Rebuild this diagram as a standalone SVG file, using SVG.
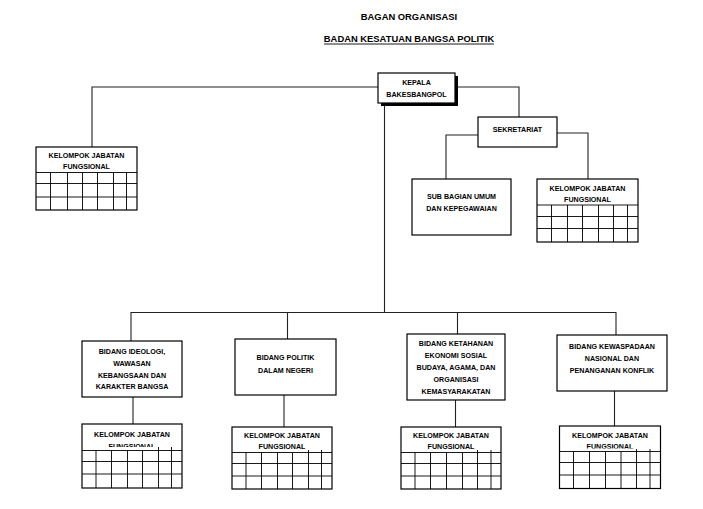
<svg xmlns="http://www.w3.org/2000/svg" width="703" height="509" viewBox="0 0 703 509">
<style>
.t{font-family:"Liberation Sans",Arial,sans-serif;font-weight:bold;font-size:7.1px;fill:#000;text-anchor:middle}
.h{font-family:"Liberation Sans",Arial,sans-serif;font-weight:bold;font-size:9.4px;fill:#000;text-anchor:middle}
.b{fill:#fff;stroke:#000;stroke-width:1.2}
.g{stroke:#000;stroke-width:0.9;fill:none}
.c{stroke:#222;stroke-width:1.1;fill:none}
</style>
<defs>
<clipPath id="clipA"><rect x="82" y="424" width="100" height="23"/></clipPath>
<clipPath id="clipB"><rect x="559" y="426" width="102" height="22.5"/></clipPath>
</defs>
<rect width="703" height="509" fill="#fff"/>
<g id="title">
<text class="h" x="409" y="20">BAGAN ORGANISASI</text>
<text class="h" x="409" y="42">BADAN KESATUAN BANGSA POLITIK</text>
<line x1="324" y1="44" x2="494" y2="44" stroke="#000" stroke-width="0.9"/>
</g>
<g id="connectors">
<polyline class="c" points="378,87 92,87 92,147"/>
<polyline class="c" points="455,87 519,87 519,117"/>
<line class="c" x1="384.5" y1="103" x2="384.5" y2="313"/>
<polyline class="c" points="478,135 446,135 446,179"/>
<polyline class="c" points="557,133 588,133 588,179"/>
<polyline class="c" points="131,341 131,312.5 616,312.5 616,335"/>
<line class="c" x1="287.5" y1="312.5" x2="287.5" y2="339"/>
<line class="c" x1="457.5" y1="312.5" x2="457.5" y2="334"/>
<line class="c" x1="133" y1="397" x2="133" y2="424"/>
<line class="c" x1="284" y1="395" x2="284" y2="427"/>
<line class="c" x1="455.5" y1="400" x2="455.5" y2="427"/>
<line class="c" x1="614.5" y1="391" x2="614.5" y2="426"/>
</g>
<g id="kepala">
<rect x="381" y="76" width="77" height="30" fill="#000"/>
<rect class="b" x="378" y="73" width="77" height="30"/>
<text class="t" x="416.5" y="84.5">KEPALA</text>
<text class="t" x="416.5" y="97">BAKESBANGPOL</text>
</g>
<g id="sekretariat">
<rect class="b" x="478" y="117" width="79" height="30"/>
<text class="t" x="517.5" y="131.5">SEKRETARIAT</text>
</g>
<g id="subbagian">
<rect class="b" x="412" y="179" width="99" height="56"/>
<text class="t" x="461.5" y="198.5">SUB BAGIAN UMUM</text>
<text class="t" x="461.5" y="211">DAN KEPEGAWAIAN</text>
</g>
<g id="kjf-kepala">
<rect class="b" x="36" y="147" width="101" height="63"/>
<text class="t" x="86.5" y="157.5">KELOMPOK JABATAN</text>
<text class="t" x="86.5" y="169">FUNGSIONAL</text>
<path class="g" d="M36 172.5H137M36 183.5H137M36 197H137M50.5 172.5V210M67.5 172.5V210M82.5 172.5V210M97.5 172.5V210M113.5 172.5V210M126.5 172.5V210"/>
</g>
<g id="kjf-sekretariat">
<rect class="b" x="537" y="179" width="101" height="63"/>
<text class="t" x="587.5" y="190.5">KELOMPOK JABATAN</text>
<text class="t" x="587.5" y="202">FUNGSIONAL</text>
<path class="g" d="M537 205H638M537 216.5H638M537 228.5H638M551.5 205V242M567.5 205V242M582.5 205V242M598.5 205V242M613.5 205V242M627.5 205V242"/>
</g>
<g id="bidang-ideologi">
<rect class="b" x="82" y="341" width="100" height="56"/>
<text class="t" x="132" y="353.5">BIDANG IDEOLOGI,</text>
<text class="t" x="132" y="365.5">WAWASAN</text>
<text class="t" x="132" y="377.5">KEBANGSAAN DAN</text>
<text class="t" x="132" y="388.5">KARAKTER BANGSA</text>
</g>
<g id="bidang-politik">
<rect class="b" x="235" y="339" width="101" height="56"/>
<text class="t" x="285.5" y="359.5">BIDANG POLITIK</text>
<text class="t" x="285.5" y="373">DALAM NEGERI</text>
</g>
<g id="bidang-ketahanan">
<rect class="b" x="407" y="334" width="98" height="66"/>
<text class="t" x="456" y="345.5">BIDANG KETAHANAN</text>
<text class="t" x="456" y="357.5">EKONOMI SOSIAL</text>
<text class="t" x="456" y="369.5">BUDAYA, AGAMA, DAN</text>
<text class="t" x="456" y="381.5">ORGANISASI</text>
<text class="t" x="456" y="393.5">KEMASYARAKATAN</text>
</g>
<g id="bidang-kewaspadaan">
<rect class="b" x="557" y="335" width="110" height="56"/>
<text class="t" x="612" y="349">BIDANG KEWASPADAAN</text>
<text class="t" x="612" y="361">NASIONAL DAN</text>
<text class="t" x="612" y="373">PENANGANAN KONFLIK</text>
</g>
<g id="kjf-ideologi">
<rect class="b" x="82" y="424" width="100" height="64"/>
<text class="t" x="132" y="436.5">KELOMPOK JABATAN</text>
<text class="t" x="132" y="449" clip-path="url(#clipA)">FUNGSIONAL</text>
<path class="g" d="M82 450.5H182M82 461.5H182M82 474H182M96 450.5V488M111.5 450.5V488M127.5 450.5V488M142.5 450.5V488M158.5 447V488M171.5 447V488"/>
</g>
<g id="kjf-politik">
<rect class="b" x="232" y="427" width="100" height="62"/>
<text class="t" x="282" y="437.5">KELOMPOK JABATAN</text>
<text class="t" x="282" y="448.5">FUNGSIONAL</text>
<path class="g" d="M232 452.5H332M232 463.5H332M232 476H332M246 452.5V489M261.5 452.5V489M277.5 452.5V489M292.5 452.5V489M308.5 450V489M321.5 450V489"/>
</g>
<g id="kjf-ketahanan">
<rect class="b" x="401" y="427" width="100" height="62"/>
<text class="t" x="451" y="437.5">KELOMPOK JABATAN</text>
<text class="t" x="451" y="448.5">FUNGSIONAL</text>
<path class="g" d="M401 452.5H501M401 463.5H501M401 476H501M415 452.5V489M430.5 452.5V489M446.5 452.5V489M462.5 452.5V489M477.5 450V489M491 450V489"/>
</g>
<g id="kjf-kewaspadaan">
<rect class="b" x="559.5" y="426" width="101" height="62.5"/>
<text class="t" x="610" y="437.5">KELOMPOK JABATAN</text>
<text class="t" x="610" y="449" clip-path="url(#clipB)">FUNGSIONAL</text>
<path class="g" d="M559.5 451.5H660.5M559.5 462.5H660.5M559.5 475H660.5M573.5 451.5V488.5M589.5 451.5V488.5M605.5 451.5V488.5M621 451.5V488.5M636.5 449V488.5M650 449V488.5"/>
</g>
</svg>
